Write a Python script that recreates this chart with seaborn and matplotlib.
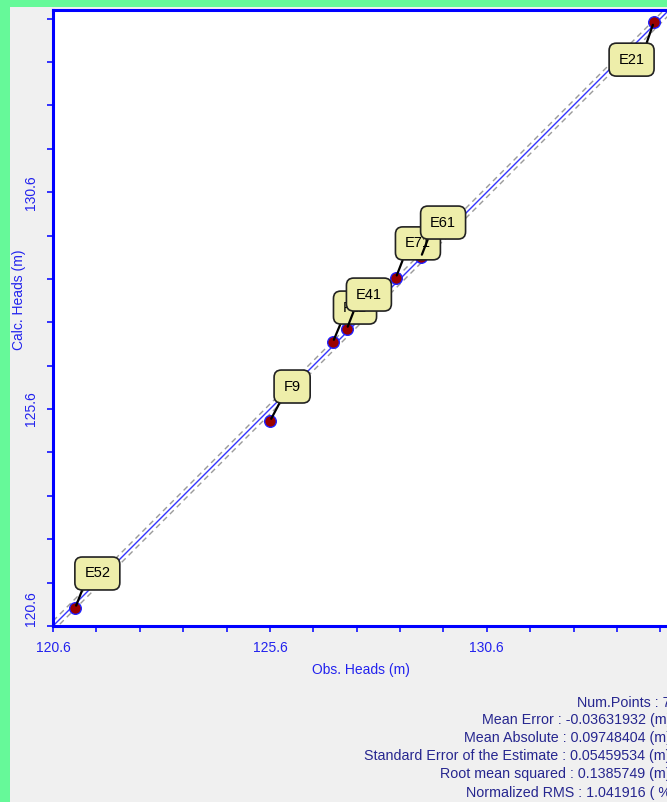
import matplotlib
matplotlib.use("Agg")
import matplotlib.pyplot as plt
from matplotlib.patches import Rectangle
import seaborn as sns
import pandas as pd

# observed vs calculated heads (m)
wells = ["E52", "F9", "F11", "E41", "E71", "E61", "E21"]
obs = [121.11, 125.60, 127.05, 127.37, 128.50, 129.08, 134.45]
calc = [121.01, 125.32, 127.14, 127.44, 128.62, 129.10, 134.52]
major_ticks = [120.6, 125.6, 130.6]
minor_ticks = [120.6 + i for i in range(15)]
band = 0.115

stats_lines = [
    "Num.Points : 7",
    "Mean Error : -0.03631932 (m)",
    "Mean Absolute : 0.09748404 (m)",
    "Standard Error of the Estimate : 0.05459534 (m)",
    "Root mean squared : 0.1385749 (m)",
    "Normalized RMS : 1.041916 ( % )",
]

df = pd.DataFrame({"well": wells, "obs": obs, "calc": calc})

sns.set_style("white")
plt.rcParams['font.family'] = ['Liberation Sans', 'DejaVu Sans']

W, H = 667, 802
fig = plt.figure(figsize=(W / 100, H / 100), dpi=100)
fig.patch.set_facecolor("#66F999")
fig.patches.append(Rectangle((10 / W, 0), 1, 1 - 7 / H, transform=fig.transFigure,
                             facecolor="#F0F0F0", edgecolor="none", zorder=-10))

ax = fig.add_axes([53 / W, 1 - 626 / H, 616 / W, 616 / H])
lo, hi = 120.6, 134.8
ax.set_xlim(lo, hi)
ax.set_ylim(lo, hi)
ax.set_facecolor("white")

# 1:1 line and error band
ax.plot([lo, hi], [lo, hi], color="#3333FF", lw=1, zorder=2)
ax.plot([lo, hi], [lo + band, hi + band], color="#9A9A9A", lw=1, ls=(0, (4, 3)), zorder=2)
ax.plot([lo, hi], [lo - band, hi - band], color="#9A9A9A", lw=1, ls=(0, (4, 3)), zorder=2)

sns.scatterplot(data=df, x="obs", y="calc", ax=ax, s=70, color="#9A0000",
                edgecolor="#2020FF", linewidth=1, zorder=3, legend=False)

for i, row in df.iterrows():
    if row.well == "E21":
        off, rel = (-16, -27), (0.95, 1.0)
    else:
        off, rel = (16, 25), (0.06, 0.0)
    ax.annotate(row.well, (row.obs, row.calc), xytext=off, textcoords="offset points",
                ha="center", va="center", fontsize=10.5, color="black", zorder=5 + i,
                bbox=dict(boxstyle="round,pad=0.65,rounding_size=0.5", fc="#EEEEAA",
                          ec="#222222", lw=1.2),
                arrowprops=dict(arrowstyle="-", color="black", lw=1.6, relpos=rel,
                                shrinkA=0, shrinkB=2))

for s in ax.spines.values():
    s.set_color("#0000FF")
    s.set_linewidth(2.2)

ax.set_xticks(major_ticks)
ax.set_yticks(major_ticks)
ax.set_xticks(minor_ticks, minor=True)
ax.set_yticks(minor_ticks, minor=True)
ax.set_xticklabels([f"{v:.1f}" for v in major_ticks])
ax.set_yticklabels([f"{v:.1f}" for v in major_ticks], rotation=90, va="center")
ax.get_yticklabels()[0].set_va("bottom")
for which in ("major", "minor"):
    ax.tick_params(axis="both", which=which, direction="out", length=4.5, width=1.3,
                   color="#2222FF", labelcolor="#2222EE", labelsize=10, pad=6,
                   bottom=True, left=True)

ax.set_xlabel("Obs. Heads (m)", color="#2222EE", fontsize=10, labelpad=6)
ax.set_ylabel("Calc. Heads (m)", color="#2222EE", fontsize=10)
ax.yaxis.set_label_coords(-27 / 616, (626 - 300) / 616)

ys = [703, 720, 738, 756, 774, 793]
for line, y in zip(stats_lines, ys):
    xr = 680 if line.startswith("Normalized") else 671
    fig.text(xr / W, 1 - y / H, line, ha="right", va="center", fontsize=10.3, color="#26268F")

fig.savefig("out.png", dpi=100, facecolor=fig.get_facecolor())
